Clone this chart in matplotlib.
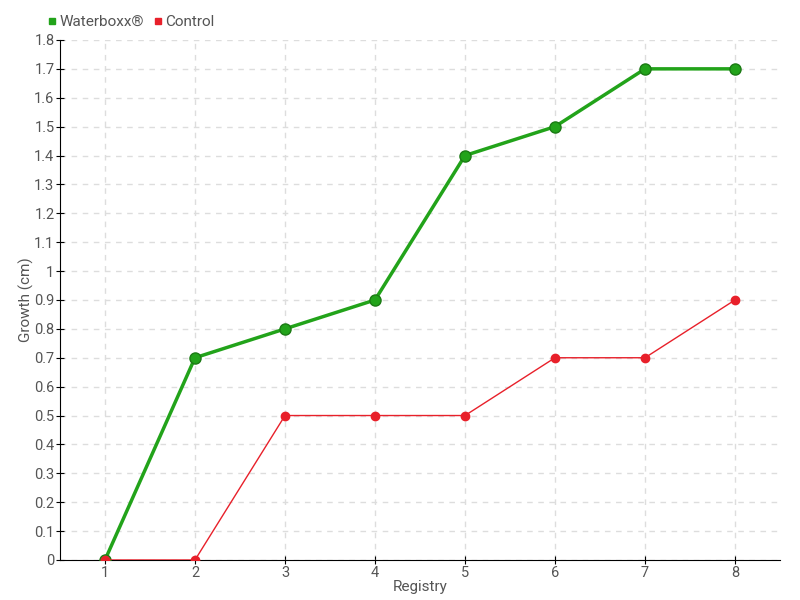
import matplotlib
matplotlib.use('Agg')
import matplotlib.pyplot as plt
from matplotlib.lines import Line2D

registry = [1, 2, 3, 4, 5, 6, 7, 8]
waterboxx = [0, 0.7, 0.8, 0.9, 1.4, 1.5, 1.7, 1.7]
control = [0, 0, 0.5, 0.5, 0.5, 0.7, 0.7, 0.9]
y_ticks = [round(i * 0.1, 1) for i in range(19)]
y_labels = ['0' if v == 0 else ('1' if v == 1 else f'{v:g}') for v in y_ticks]

plt.rcParams['font.family'] = ['Roboto', 'DejaVu Sans']
text_color = '#555555'
green = '#22a31a'
red = '#e8202a'

fig = plt.figure(figsize=(8, 6), dpi=100)
ax = fig.add_axes([0.075, 0.0667, 0.9, 0.8667])

ax.plot(registry, waterboxx, color=green, lw=2.5, marker='o', ms=8,
        markerfacecolor=green, markeredgecolor='#1b7a14', markeredgewidth=1, zorder=3)
ax.plot(registry, control, color=red, lw=1, marker='o', ms=6,
        markerfacecolor=red, markeredgecolor=red, zorder=4)

ax.set_xlim(0.5, 8.5)
ax.set_ylim(0, 1.8)
ax.set_xticks(registry)
ax.set_yticks(y_ticks)
ax.set_yticklabels(y_labels)
ax.grid(True, color='#dddddd', linestyle=(0, (4, 4)), lw=1)
ax.set_axisbelow(True)
for s in ['top', 'right']:
    ax.spines[s].set_visible(False)
ax.tick_params(direction='inout', length=6, colors='black', labelcolor=text_color,
               labelsize=10.5, pad=1)
ax.set_xlabel('Registry', color=text_color, fontsize=11, labelpad=0)
ax.set_ylabel('Growth (cm)', color=text_color, fontsize=11, labelpad=0)

handles = [Line2D([], [], color=green, marker='s', lw=0, ms=5),
           Line2D([], [], color=red, marker='s', lw=0, ms=5)]
leg = fig.legend(handles, ['Waterboxx®', 'Control'], loc='upper left',
                 bbox_to_anchor=(0.038, 0.998), ncol=2, frameon=False,
                 handletextpad=0.0, columnspacing=0.4, handlelength=1.0, fontsize=11)
for t in leg.get_texts():
    t.set_color(text_color)

fig.savefig('out.png', dpi=100)
